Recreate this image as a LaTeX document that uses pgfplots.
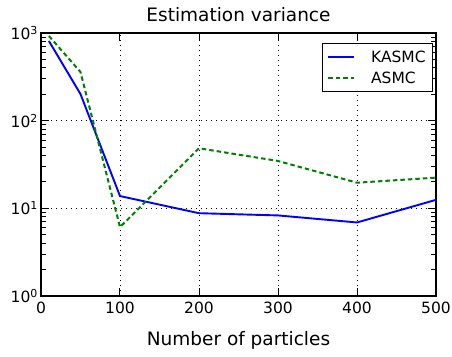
\documentclass[border=0pt]{standalone}
\usepackage{fontspec}
\setmainfont{DejaVu Sans}
\usepackage{pgfplots}
\pgfplotsset{compat=1.18}
\newcommand{\sx}[1]{10\raisebox{0.6ex}{\fontsize{11}{11}\selectfont #1}}
\begin{document}
\begin{tikzpicture}
\begin{axis}[
  scale only axis,
  width=395pt, height=263pt,
  ymode=log,
  xmin=0, xmax=500, ymin=1, ymax=1000,
  xtick={0,100,200,300,400,500},
  ytick={1,10,100,1000},
  yticklabels={\sx{0},\sx{1},\sx{2},\sx{3}},
  extra y ticks={2,3,4,5,6,7,8,9,20,30,40,50,60,70,80,90,200,300,400,500,600,700,800,900},
  extra y tick labels={},
  extra y tick style={grid=none, major tick length=5pt},
  /pgf/number format/assume math mode=true,
  tick label style={font=\fontsize{15.5}{17}\selectfont},
  xticklabel style={yshift=-2pt},
  title={Estimation variance},
  title style={font=\fontsize{18.5}{20}\selectfont, yshift=2pt},
  xlabel={Number of particles},
  xlabel style={font=\fontsize{18.5}{20}\selectfont, yshift=-11pt},
  grid=major,
  major grid style={black, line width=0.9pt, dash pattern=on 1pt off 4pt},
  axis line style={black, line width=1.3pt},
  xtick align=inside, ytick align=inside,
  xtick pos=both, ytick pos=both,
  major tick length=8pt,
  every tick/.style={black, solid, line width=1pt},
  legend style={at={(rel axis cs:0.993,0.962)}, anchor=north east, draw=black, line width=1.2pt,
    font=\fontsize{15.5}{17}\selectfont, row sep=4pt, inner xsep=5pt, inner ysep=5pt},
  legend cell align=left,
  legend image code/.code={\draw[#1, line width=1.3pt] (0pt,0pt) -- (26pt,0pt);},
]
\addplot[blue, line width=1.9pt] coordinates {
(10,811) (50,201) (100,13.8) (200,8.8) (300,8.3) (400,6.9) (500,12.5)
};
\addlegendentry{\hspace{14pt}KASMC}
\addplot[green!50!black, line width=2pt, dash pattern=on 4.5pt off 3pt] coordinates {
(10,925) (50,359) (100,6.1) (200,48.4) (300,34.7) (400,19.6) (500,22.4)
};
\addlegendentry{\hspace{14pt}ASMC}
\end{axis}
\pgfresetboundingbox
\path (-41pt,-60pt) rectangle (411pt,296pt);
\end{tikzpicture}
\end{document}
